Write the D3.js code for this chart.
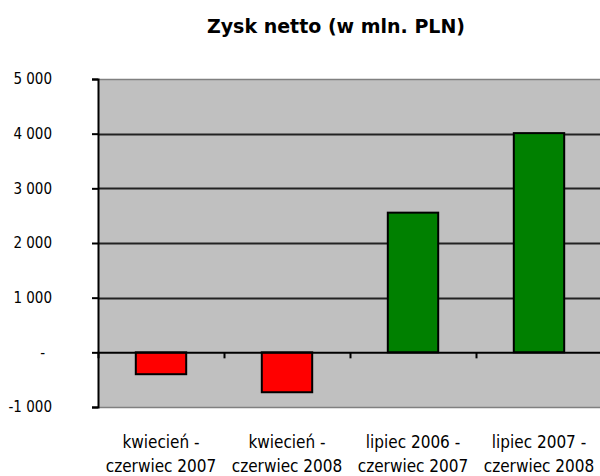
<!DOCTYPE html>
<html>
<head>
<meta charset="utf-8">
<script src="https://cdn.jsdelivr.net/npm/d3@7"></script>
<style>
  body { margin: 0; background: #fff; }
  text { font-family: "DejaVu Sans Condensed", "DejaVu Sans", sans-serif; fill: #000; }
</style>
</head>
<body>
<script>
  // data
  var categories = [
    ["kwiecień -", "czerwiec 2007"],
    ["kwiecień -", "czerwiec 2008"],
    ["lipiec 2006 -", "czerwiec 2007"],
    ["lipiec 2007 -", "czerwiec 2008"]
  ];
  var values = [-400, -730, 2555, 4010];
  var yTicks = [-1000, 0, 1000, 2000, 3000, 4000, 5000];
  var yTickLabels = ["-1 000", "-", "1 000", "2 000", "3 000", "4 000", "5 000"];
  var title = "Zysk netto (w mln. PLN)";

  var width = 600, height = 476;
  var plot = {left: 98, right: 602, top: 79, bottom: 407};

  var svg = d3.select("body").append("svg")
      .attr("width", width)
      .attr("height", height);

  var xScale = d3.scaleBand()
      .domain(d3.range(categories.length))
      .range([plot.left, plot.right])
      .paddingInner(0.6)
      .paddingOuter(0.3);
  var xIdx = d3.scaleLinear()
      .domain([0, categories.length])
      .range([plot.left, plot.right]);
  var yScale = d3.scaleLinear()
      .domain([-1000, 5000])
      .range([plot.bottom, plot.top]);

  // plot background
  svg.append("rect")
    .attr("x", plot.left)
    .attr("y", plot.top)
    .attr("width", plot.right - plot.left)
    .attr("height", plot.bottom - plot.top)
    .attr("fill", "#c0c0c0");

  // gridlines
  svg.append("g")
    .selectAll("line")
    .data(yTicks.filter(function(d) { return d !== 0 && d !== -1000 && d !== 5000; }))
    .enter().append("line")
      .attr("x1", plot.left)
      .attr("x2", plot.right)
      .attr("y1", function(d) { return Math.round(yScale(d)) + 0.5; })
      .attr("y2", function(d) { return Math.round(yScale(d)) + 0.5; })
      .attr("stroke", "#222")
      .attr("stroke-width", 2);

  // top / bottom border of plot
  [plot.top, plot.bottom].forEach(function(y) {
    svg.append("line")
      .attr("x1", plot.left).attr("x2", plot.right)
      .attr("y1", y + 0.5).attr("y2", y + 0.5)
      .attr("stroke", "#808080")
      .attr("stroke-width", 1.5);
  });

  // bars
  svg.append("g")
    .selectAll("rect")
    .data(values)
    .enter().append("rect")
      .attr("x", function(d, i) { return xScale(i); })
      .attr("y", function(d) { return yScale(Math.max(0, d)); })
      .attr("width", xScale.bandwidth())
      .attr("height", function(d) { return Math.abs(yScale(d) - yScale(0)); })
      .attr("fill", function(d) { return d < 0 ? "#ff0000" : "#008000"; })
      .attr("stroke", "#000")
      .attr("stroke-width", 2);

  // axis-y
  var yAxis = svg.append("g")
    .attr("transform", "translate(" + plot.left + ",0)")
    .call(d3.axisLeft(yScale)
      .tickValues(yTicks)
      .tickSize(6)
      .tickFormat(function(d, i) { return yTickLabels[i]; }));
  yAxis.select(".domain").attr("stroke", "#000").attr("stroke-width", 2);
  yAxis.selectAll(".tick line").attr("stroke", "#000").attr("stroke-width", 2);
  yAxis.selectAll(".tick text")
    .attr("font-size", "15px")
    .attr("text-anchor", "end")
    .attr("x", function(d) { return d === 0 ? -53 : -46; });

  // axis-x at zero
  var xAxis = svg.append("g")
    .attr("transform", "translate(0," + yScale(0) + ")")
    .call(d3.axisBottom(xIdx)
      .tickValues([1, 2, 3])
      .tickSize(6)
      .tickFormat(""));
  xAxis.select(".domain").attr("stroke", "#000").attr("stroke-width", 2);
  xAxis.selectAll(".tick line").attr("stroke", "#000").attr("stroke-width", 2);

  // category labels
  var labels = svg.append("g")
    .selectAll("text")
    .data(categories)
    .enter().append("text")
      .attr("text-anchor", "middle")
      .attr("font-size", "17px")
      .attr("transform", function(d, i) {
        return "translate(" + (xIdx(i) + (xIdx(1) - xIdx(0)) / 2) + ",448)";
      });
  labels.selectAll("tspan")
    .data(function(d) { return d; })
    .enter().append("tspan")
      .attr("x", 0)
      .attr("dy", function(d, i) { return i === 0 ? 0 : 24; })
      .text(function(d) { return d; });

  // title
  svg.append("text")
    .attr("x", 336)
    .attr("y", 33)
    .attr("text-anchor", "middle")
    .attr("font-size", "19px")
    .attr("font-weight", "bold")
    .style("font-family", "'DejaVu Sans', sans-serif")
    .text(title);
</script>
</body>
</html>
